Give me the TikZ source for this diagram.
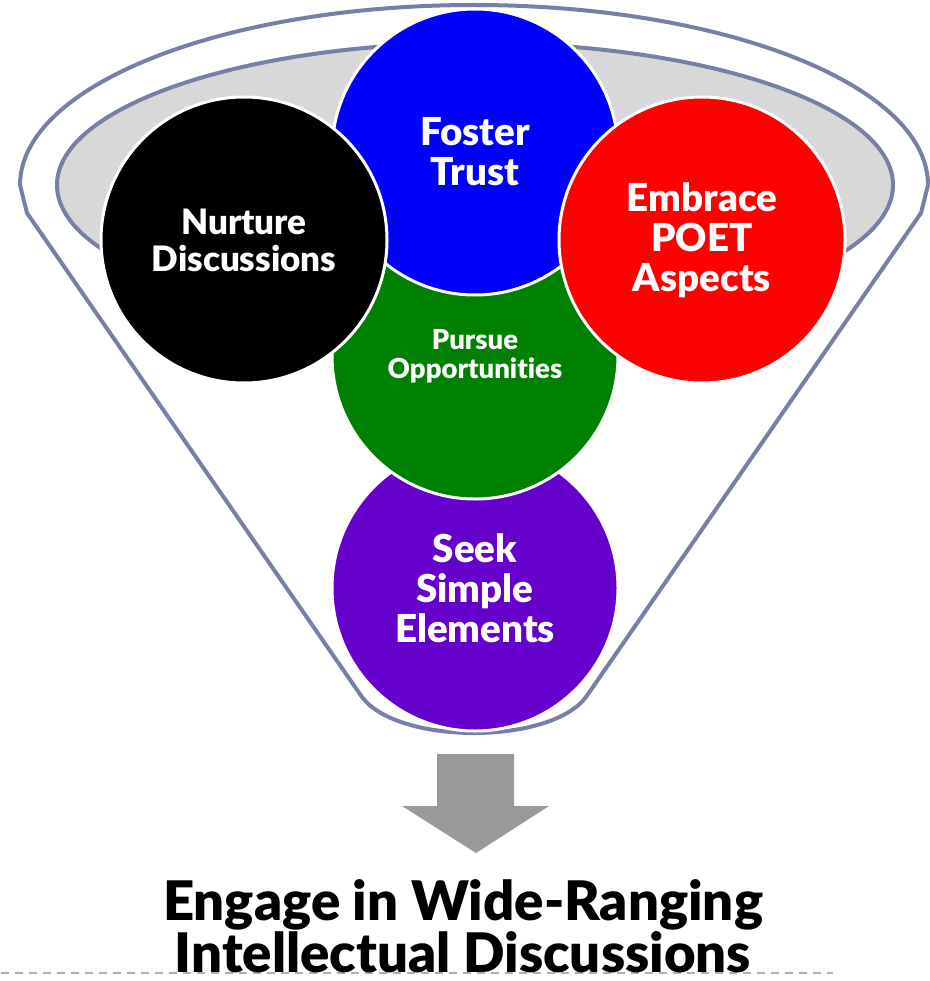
\documentclass[tikz,border=0pt]{standalone}
\usepackage{fontspec}
\setmainfont{Lato}[BoldFont={Lato Black},Ligatures=NoCommon]
\usetikzlibrary{positioning}
\definecolor{funnelline}{RGB}{118,128,166}
\definecolor{funnelfill}{RGB}{216,216,216}
\definecolor{trustblue}{RGB}{0,0,255}
\definecolor{poetred}{RGB}{255,0,0}
\definecolor{pursuegreen}{RGB}{0,128,0}
\definecolor{seekpurple}{RGB}{102,0,204}
\definecolor{arrowgray}{RGB}{153,153,153}
\definecolor{rulecolor}{RGB}{160,180,200}

\begin{document}
\begin{tikzpicture}[x=1pt,y=-1pt,
      goal/.style={circle,draw=white,line width=3pt,minimum size=286pt,inner sep=0pt,
        text=white,align=center},
      bigtext/.style={font=\bfseries\fontsize{38.5}{40}\selectfont},
      rim/.style={draw=funnelline,line width=4pt,line join=round}]
      \useasboundingbox (0,0) rectangle (929,981);
      % funnel
      \draw[rim] (20,185) arc[start angle=180,end angle=360,x radius=454,y radius=180]
        -- (921,213) -- (586,697) .. controls (550,745) and (398,745) .. (362,697)
        -- (27,213) -- cycle;
      \draw[rim,fill=funnelfill] (475,185) ellipse[x radius=418,y radius=142];
      % circles
      \node[goal,fill=seekpurple,bigtext] (seek) at (475,588) {Seek\\Simple\\Elements};
      \node[goal,fill=pursuegreen,font=\bfseries\fontsize{27.5}{29}\selectfont] (pursue) at (475,356) {Pursue\\Opportunities};
      \node[goal,fill=trustblue,bigtext] (trust) at (475,152) {Foster\\Trust};
      \node[goal,fill=black,font=\bfseries\fontsize{35}{37}\selectfont] (nurture) at (244,240) {Nurture\\Discussions};
      \node[goal,fill=poetred,bigtext] (poet) at (702,240) {Embrace\\POET\\Aspects};
      % arrow
      \fill[arrowgray] (437,754) -- (514,754) -- (514,806) -- (549,806) -- (476,853)
        -- (402,806) -- (437,806) -- cycle;
      \draw[rulecolor,line width=2pt,dash pattern=on 8pt off 6pt] (1,973) -- (833,973);
      \node[anchor=south,inner sep=0pt,align=center,font=\bfseries\fontsize{54.5}{48}\selectfont] (goal) at (463,973)
        {Engage in Wide-Ranging\\Intellectual Discussions};
    \end{tikzpicture}
\end{document}
